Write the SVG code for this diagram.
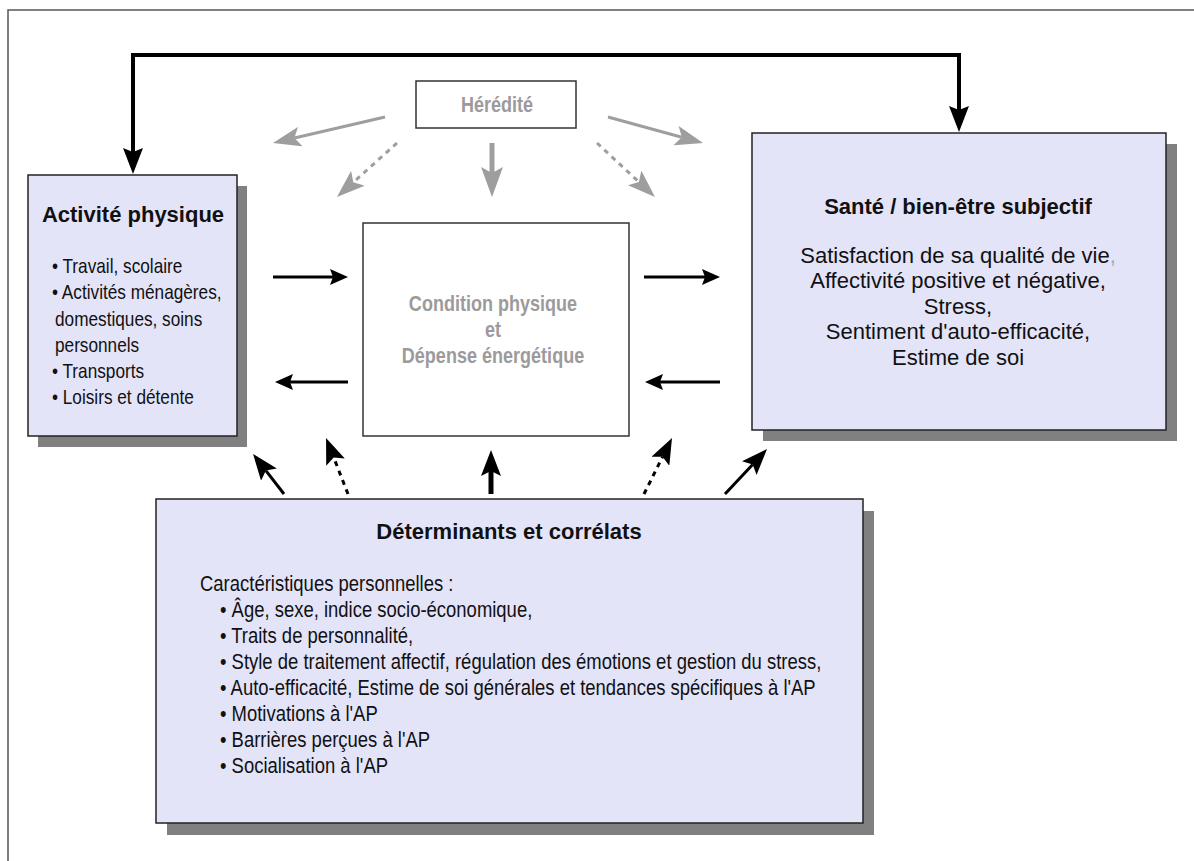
<svg xmlns="http://www.w3.org/2000/svg" width="1194" height="861" viewBox="0 0 1194 861">
<style>
.frame{fill:none;stroke:#555;stroke-width:1.5}
.box{fill:#e4e4f9;stroke:#222;stroke-width:1.5}
.shadow{fill:#808080}
.plain{fill:#fff;stroke:#333;stroke-width:1.5}
.t{font-family:"Liberation Sans",Arial,sans-serif;fill:#111}
.b{font-weight:bold;font-size:22px}
.r{font-size:22px}
.n{font-family:"Liberation Sans",Arial,sans-serif;font-size:22px;fill:#111}
.nl{font-family:"Liberation Sans",Arial,sans-serif;font-size:21px;fill:#111}
.g{font-family:"Liberation Sans",Arial,sans-serif;font-size:22px;font-weight:bold;fill:#9c9a9a}
.k{fill:none;stroke:#000}
.gr{fill:none;stroke:#9e9e9e}
.d{stroke-dasharray:5 5}
</style>
<defs>
<marker id="mBig" markerUnits="userSpaceOnUse" viewBox="0 0 26 20" refX="4" refY="10" markerWidth="26" markerHeight="20" orient="auto-start-reverse"><path d="M0,0 L26,10 L0,20 L4,10 z" fill="#000"/></marker>
<marker id="mBlk" markerUnits="userSpaceOnUse" viewBox="0 0 18 16" refX="3" refY="8" markerWidth="18" markerHeight="16" orient="auto"><path d="M0,0 L18,8 L0,16 L3,8 z" fill="#000"/></marker>
<marker id="mBot" markerUnits="userSpaceOnUse" viewBox="0 0 26 20" refX="5" refY="10" markerWidth="26" markerHeight="20" orient="auto"><path d="M0,0 L26,10 L0,20 L5,10 z" fill="#000"/></marker>
<marker id="mGray" markerUnits="userSpaceOnUse" viewBox="0 0 28 20" refX="6" refY="10" markerWidth="28" markerHeight="20" orient="auto"><path d="M0,0 L28,10 L0,20 L6,10 z" fill="#9e9e9e"/></marker>
<marker id="mGrayV" markerUnits="userSpaceOnUse" viewBox="0 0 30 22" refX="6" refY="11" markerWidth="30" markerHeight="22" orient="auto"><path d="M0,0 L30,11 L0,22 L6,11 z" fill="#9e9e9e"/></marker>
</defs>
<rect class="frame" x="8" y="10" width="1200" height="900"/>

<g id="connectors">
<path class="k" stroke-width="4" d="M959,110 L959,55 L133,55 L133,152" marker-start="url(#mBig)" marker-end="url(#mBig)"/>
<line class="k" stroke-width="3" x1="273" y1="277" x2="333" y2="277" marker-end="url(#mBlk)"/>
<line class="k" stroke-width="3" x1="348" y1="382" x2="290" y2="382" marker-end="url(#mBlk)"/>
<line class="k" stroke-width="3" x1="644" y1="277" x2="705" y2="277" marker-end="url(#mBlk)"/>
<line class="k" stroke-width="3" x1="720" y1="382" x2="660" y2="382" marker-end="url(#mBlk)"/>
<line class="k" stroke-width="3" x1="284" y1="494" x2="265.9" y2="470.6" marker-end="url(#mBot)"/>
<line class="k d" stroke-width="3" x1="348" y1="494" x2="333.7" y2="457.5" marker-end="url(#mBot)"/>
<line class="k" stroke-width="5" x1="491" y1="494" x2="491" y2="471" marker-end="url(#mBot)"/>
<line class="k d" stroke-width="3" x1="644" y1="494" x2="662.6" y2="456.8" marker-end="url(#mBot)"/>
<line class="k" stroke-width="3" x1="725" y1="494" x2="752.7" y2="464.4" marker-end="url(#mBot)"/>
<line class="gr" stroke-width="3" x1="385" y1="117" x2="294.4" y2="138" marker-end="url(#mGray)"/>
<line class="gr d" stroke-width="3" x1="397" y1="143" x2="353.3" y2="182.3" marker-end="url(#mGray)"/>
<line class="gr" stroke-width="5" x1="492" y1="143" x2="492" y2="173" marker-end="url(#mGrayV)"/>
<line class="gr d" stroke-width="3" x1="597" y1="143" x2="638.9" y2="182" marker-end="url(#mGray)"/>
<line class="gr" stroke-width="3" x1="608" y1="117" x2="681.8" y2="137.2" marker-end="url(#mGray)"/>
</g>

<g id="heredite">
<rect class="plain" x="416" y="81" width="160" height="47"/>
<text class="g" text-anchor="middle" transform="translate(497,112) scale(0.82,1)">Hérédité</text>
</g>

<g id="activite">
<rect class="shadow" x="38" y="186" width="209" height="261"/>
<rect class="box" x="28" y="175" width="209" height="261"/>
<text class="t b" x="133" y="222" text-anchor="middle">Activité physique</text>
<text class="nl" transform="translate(52,273) scale(0.82,1)">• Travail, scolaire</text>
<text class="nl" transform="translate(52,299) scale(0.82,1)">• Activités ménagères,</text>
<text class="nl" transform="translate(55,326) scale(0.82,1)">domestiques, soins</text>
<text class="nl" transform="translate(55,352) scale(0.82,1)">personnels</text>
<text class="nl" transform="translate(52,378) scale(0.82,1)">• Transports</text>
<text class="nl" transform="translate(52,404) scale(0.82,1)">• Loisirs et détente</text>
</g>

<g id="condition">
<rect class="plain" x="363" y="223" width="266" height="213"/>
<text class="g" text-anchor="middle" transform="translate(493,311) scale(0.82,1)">Condition physique</text>
<text class="g" text-anchor="middle" transform="translate(493,337) scale(0.82,1)">et</text>
<text class="g" text-anchor="middle" transform="translate(493,363) scale(0.82,1)">Dépense énergétique</text>
</g>

<g id="sante">
<rect class="shadow" x="763" y="144" width="414" height="297"/>
<rect class="box" x="752" y="133" width="414" height="297"/>
<text class="t b" x="958" y="214" text-anchor="middle">Santé / bien-être subjectif</text>
<text class="t r" text-anchor="middle" x="958" y="263">Satisfaction de sa qualité de vie<tspan fill="#a8a8a8">,</tspan></text>
<text class="t r" text-anchor="middle" x="958" y="288">Affectivité positive et négative,</text>
<text class="t r" text-anchor="middle" x="958" y="314">Stress,</text>
<text class="t r" text-anchor="middle" x="958" y="339">Sentiment d'auto-efficacité,</text>
<text class="t r" text-anchor="middle" x="958" y="365">Estime de soi</text>
</g>

<g id="determinants">
<rect class="shadow" x="167" y="511" width="707" height="324"/>
<rect class="box" x="156" y="499" width="707" height="324"/>
<text class="t b" x="509" y="539" text-anchor="middle">Déterminants et corrélats</text>
<text class="n" transform="translate(200,591) scale(0.84,1)">Caractéristiques personnelles :</text>
<text class="n" transform="translate(220,617) scale(0.84,1)">• Âge, sexe, indice socio-économique,</text>
<text class="n" transform="translate(220,643) scale(0.84,1)">• Traits de personnalité,</text>
<text class="n" transform="translate(220,669) scale(0.84,1)">• Style de traitement affectif, régulation des émotions et gestion du stress,</text>
<text class="n" transform="translate(220,695) scale(0.84,1)">• Auto-efficacité, Estime de soi générales et tendances spécifiques à l'AP</text>
<text class="n" transform="translate(220,721) scale(0.84,1)">• Motivations à l'AP</text>
<text class="n" transform="translate(220,747) scale(0.84,1)">• Barrières perçues à l'AP</text>
<text class="n" transform="translate(220,773) scale(0.84,1)">• Socialisation à l'AP</text>
</g>
</svg>
